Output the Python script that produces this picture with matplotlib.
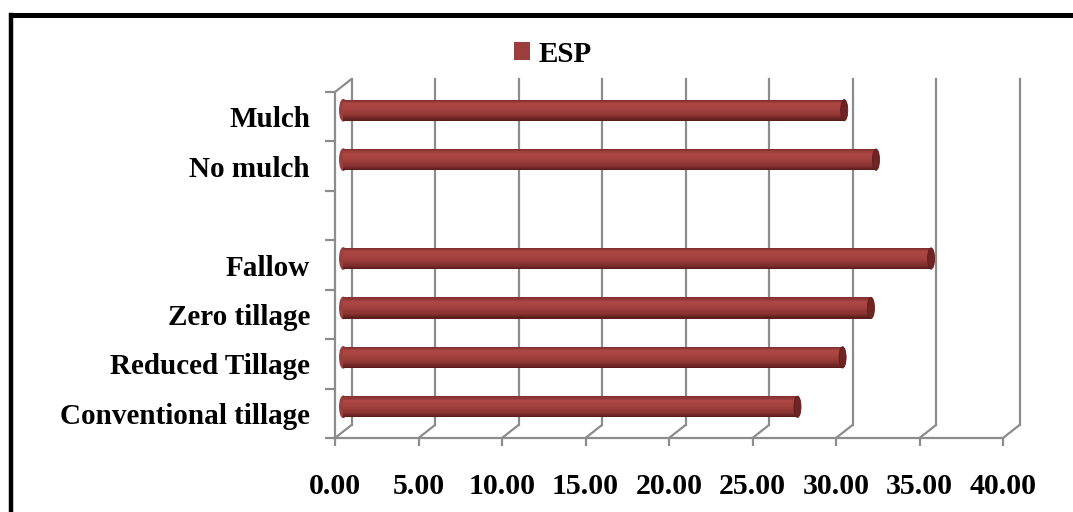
import matplotlib
matplotlib.use("Agg")
import matplotlib.pyplot as plt
import numpy as np
from matplotlib.patches import Ellipse, Patch, ConnectionPatch
from matplotlib.lines import Line2D
from matplotlib.colors import LinearSegmentedColormap
from matplotlib.transforms import offset_copy

# Data, bottom to top; '' is the empty slot
categories = ['Conventional tillage', 'Reduced Tillage', 'Zero tillage',
              'Fallow', '', 'No mulch', 'Mulch']
esp = [27.2, 29.9, 31.6, 35.2, np.nan, 31.9, 30.0]
xticks = [0, 5, 10, 15, 20, 25, 30, 35, 40]

plt.rcParams['font.family'] = ['Liberation Serif', 'DejaVu Serif']
plt.rcParams['font.weight'] = 'bold'

W, H = 1073, 512
fig = plt.figure(figsize=(W / 100, H / 100), dpi=100)
# front plane of the pseudo-3D box, in pixels
x0, x1, yb, yt = 335, 1003, 438, 92
ax = fig.add_axes([x0 / W, 1 - yb / H, (x1 - x0) / W, (yb - yt) / H])
ax.set_xlim(0, 40)
ax.set_ylim(0, len(categories))
ax.patch.set_alpha(0)

grid_col = '#8c8c8c'
dx, dy = 16.5, 13
back = offset_copy(ax.transData, fig=fig, x=dx, y=dy, units='dots')
mid = offset_copy(ax.transData, fig=fig, x=dx / 2, y=dy / 2, units='dots')

# back wall grid lines and floor diagonals
for v in xticks:
    ax.plot([v, v], [0, len(categories)], transform=back, color=grid_col,
            lw=1.6, zorder=1, clip_on=False)
    ax.add_artist(ConnectionPatch(xyA=(v, 0), coordsA=ax.transData,
                                  xyB=(v, 0), coordsB=back,
                                  color=grid_col, lw=1.6, zorder=1))
# top-left diagonal of the side wall
ax.add_artist(ConnectionPatch(xyA=(0, len(categories)), coordsA=ax.transData,
                              xyB=(0, len(categories)), coordsB=back,
                              color=grid_col, lw=1.6, zorder=1))

# cylinder bars, shaded with thin strips
shade = LinearSegmentedColormap.from_list(
    'cyl', [(0.0, '#7a2c2b'), (0.2, '#ae4745'), (0.45, '#a4423f'),
            (0.75, '#8c3533'), (1.0, '#561b1a')])
bh = 0.43
n = 18
pos = np.arange(len(categories)) + 0.5
for i in range(n):
    ax.barh(pos - bh / 2 + i * bh / n, esp, height=bh / n * 1.05, left=0,
            align='edge', color=shade(1 - (i + 0.5) / n), lw=0,
            transform=mid, zorder=3)
cap_w = 0.42
for p, v in zip(pos, esp):
    if np.isnan(v):
        continue
    ax.add_patch(Ellipse((0, p), cap_w, bh, color='#9c3e3c',
                         transform=mid, zorder=2.9))
    ax.add_patch(Ellipse((v, p), cap_w, bh, facecolor='#6e2524',
                         edgecolor='#5a1d1c', lw=0.6, transform=mid, zorder=4))

# axes styling
for s in ['top', 'right']:
    ax.spines[s].set_visible(False)
for s in ['left', 'bottom']:
    ax.spines[s].set_color(grid_col)
    ax.spines[s].set_linewidth(1.6)
ax.set_xticks(xticks)
ax.set_xticklabels(['%.2f' % v for v in xticks], fontsize=21.5, fontweight='bold')
ax.tick_params(axis='x', colors=grid_col, length=6, width=1.6, pad=19,
               labelcolor='black')
ax.set_yticks(np.arange(len(categories) + 1))
ax.set_yticklabels([])
ax.tick_params(axis='y', which='major', colors=grid_col, length=7, width=1.6)
ax.set_yticks(pos, minor=True)
ax.set_yticklabels(categories, minor=True, fontsize=21, fontweight='bold')
ax.tick_params(axis='y', which='minor', length=0, pad=18, labelcolor='black')

# legend
fig.legend(handles=[Patch(facecolor='#9c3e3c', label='ESP')], loc='center',
           bbox_to_anchor=(553 / W, 1 - 54 / H), frameon=False,
           handlelength=0.55, handleheight=0.55, handletextpad=0.3,
           prop={'size': 21, 'weight': 'bold'})

# outer frame (top and left only are visible)
fig.add_artist(Line2D([11 / W, 1], [1 - 14.5 / H, 1 - 14.5 / H],
                      color='black', lw=3.6, solid_capstyle='projecting'))
fig.add_artist(Line2D([11 / W, 11 / W], [1 - 14.5 / H, 0],
                      color='black', lw=3.2, solid_capstyle='projecting'))

fig.savefig('out.png', dpi=100)
